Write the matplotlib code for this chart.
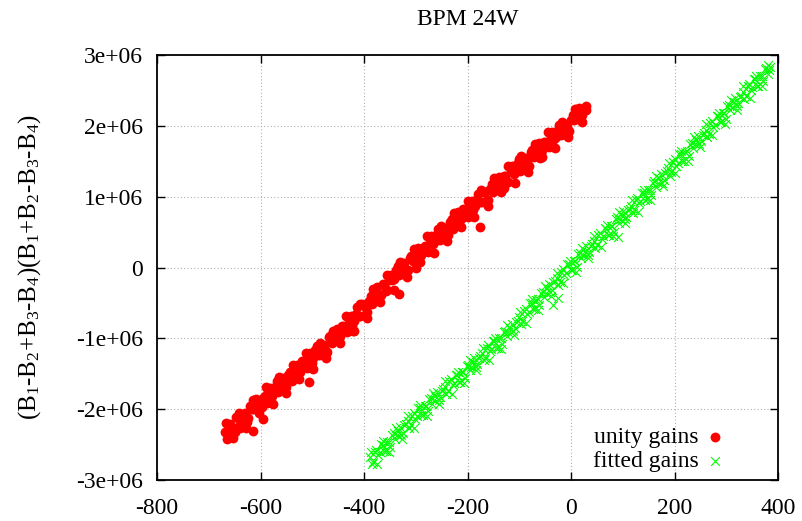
import numpy as np
import matplotlib
matplotlib.use("Agg")
import matplotlib.pyplot as plt

plt.rcParams['font.family'] = ['Liberation Serif', 'DejaVu Serif']
plt.rcParams['mathtext.fontset'] = 'custom'
plt.rcParams['mathtext.rm'] = 'Liberation Serif'
plt.rcParams['mathtext.it'] = 'Liberation Serif:italic'
plt.rcParams['axes.unicode_minus'] = False

# unity gains (x, y in units of 1e6)
x_unity = [-668, -662, -655, -650, -643, -636, -630, -624, -617, -611, -604, -598,
           -591, -585, -578, -572, -566, -559, -553, -546, -540, -533, -527, -520,
           -514, -507, -501, -494, -488, -481, -475, -468, -462, -455, -449, -442,
           -436, -429, -423, -416, -410, -403, -397, -390, -384, -377, -371, -364,
           -358, -351, -345, -338, -332, -325, -319, -312, -306, -299, -293, -286,
           -280, -273, -267, -260, -254, -247, -241, -234, -228, -221, -215, -208,
           -202, -195, -189, -182, -176, -169, -163, -156, -150, -143, -137, -130,
           -124, -117, -111, -104, -98, -91, -85, -78, -72, -65, -59, -52,
           -46, -39, -33, -26, -20, -13, -7, 0, 6, 13, 19, 25, 28,
           -665, -659, -652, -647, -640, -633, -627, -621, -614, -608, -601, -595,
           -588, -582, -575, -569, -563, -556, -550, -543, -537, -530, -524, -517,
           -511, -504, -498, -491, -485, -478, -472, -465, -459, -452, -446, -439,
           -433, -426, -420, -413, -407, -400, -394, -387, -381, -374, -368, -361,
           -355, -348, -342, -335, -329, -322, -316, -309, -303, -296, -290, -283,
           -277, -270, -264, -257, -251, -244, -238, -231, -225, -218, -212, -205,
           -199, -192, -186, -179, -173, -166, -160, -153, -147, -140, -134, -127,
           -121, -114, -108, -101, -95, -88, -82, -75, -69, -62, -56, -49,
           -43, -36, -30, -23, -17, -10, -4, 3, 9, 16, 22, 28,
           -666, -653, -641, -628, -615, -602, -589, -576, -564, -551, -538, -525,
           -512, -499, -486, -473, -460, -447, -434, -421, -408, -395, -382, -369,
           -356, -343, -330, -317, -304, -291, -278, -265, -252, -239, -226, -213,
           -200, -187, -174, -161, -148, -135, -122, -109, -96, -83, -70, -57,
           -44, -31, -18, -5, 8, 21,
           -614, -595, -506, -332, -176, -420, -300, -130, -60, -640]
y_unity = [-2.32, -2.37, -2.25, -2.32, -2.12, -2.16, -2.06, -2.12, -2.00, -1.90, -1.96, -1.97,
           -1.81, -1.74, -1.81, -1.68, -1.75, -1.56, -1.62, -1.51, -1.60, -1.46, -1.49, -1.32,
           -1.38, -1.27, -1.35, -1.17, -1.23, -1.13, -1.17, -0.98, -1.06, -0.94, -1.00, -0.83,
           -0.86, -0.72, -0.82, -0.65, -0.69, -0.52, -0.57, -0.47, -0.51, -0.34, -0.39, -0.23,
           -0.33, -0.17, -0.17, -0.03, -0.10, 0.04, -0.03, 0.13, 0.09, 0.23, 0.13, 0.27,
           0.24, 0.41, 0.34, 0.46, 0.39, 0.55, 0.50, 0.65, 0.55, 0.70, 0.69, 0.83,
           0.74, 0.88, 0.81, 0.97, 0.93, 1.07, 0.96, 1.11, 1.07, 1.24, 1.17, 1.29,
           1.21, 1.38, 1.32, 1.47, 1.36, 1.52, 1.50, 1.64, 1.56, 1.69, 1.62, 1.78,
           1.74, 1.87, 1.81, 1.94, 1.87, 2.01, 1.98, 2.09, 2.08, 2.18, 2.17, 2.24, 2.22,
           -2.42, -2.21, -2.28, -2.11, -2.22, -2.08, -2.18, -1.96, -2.00, -1.86, -1.95, -1.84,
           -1.91, -1.70, -1.77, -1.60, -1.72, -1.58, -1.68, -1.47, -1.51, -1.37, -1.47, -1.34,
           -1.42, -1.21, -1.28, -1.11, -1.23, -1.09, -1.19, -0.97, -1.02, -0.87, -0.96, -0.83,
           -0.91, -0.68, -0.75, -0.56, -0.68, -0.53, -0.62, -0.40, -0.43, -0.28, -0.38, -0.24,
           -0.32, -0.10, -0.16, 0.02, -0.09, 0.06, -0.04, 0.17, 0.13, 0.28, 0.18, 0.30,
           0.22, 0.44, 0.36, 0.54, 0.42, 0.56, 0.46, 0.68, 0.64, 0.78, 0.68, 0.81,
           0.72, 0.94, 0.87, 1.04, 0.92, 1.07, 0.96, 1.18, 1.13, 1.28, 1.17, 1.30,
           1.21, 1.43, 1.35, 1.53, 1.40, 1.55, 1.44, 1.66, 1.62, 1.76, 1.66, 1.78,
           1.70, 1.91, 1.84, 2.01, 1.89, 2.03, 1.93, 2.15, 2.11, 2.25, 2.16, 2.28,
           -2.20, -2.41, -2.05, -2.27, -1.87, -2.05, -1.69, -1.92, -1.55, -1.77, -1.38, -1.57,
           -1.20, -1.43, -1.06, -1.28, -0.89, -1.06, -0.69, -0.90, -0.51, -0.71, -0.30, -0.48,
           -0.10, -0.31, 0.08, -0.13, 0.26, 0.08, 0.44, 0.21, 0.59, 0.37, 0.77, 0.58,
           0.94, 0.72, 1.09, 0.87, 1.26, 1.07, 1.43, 1.20, 1.57, 1.35, 1.75, 1.56,
           1.92, 1.69, 2.06, 1.84, 2.24, 2.06,
           -2.31, -2.14, -1.62, -0.37, 0.58, -0.90, 0.00, 1.12, 1.55, -2.27]

# fitted gains (x, y in units of 1e6)
x_fitted = [-388, -382, -376, -370, -364, -358, -352, -346, -340, -334, -328, -322,
            -316, -310, -304, -298, -292, -286, -280, -274, -268, -262, -256, -250,
            -244, -238, -232, -226, -220, -214, -208, -202, -196, -190, -184, -178,
            -172, -166, -160, -154, -148, -142, -136, -130, -124, -118, -112, -106,
            -100, -94, -88, -82, -76, -70, -64, -58, -52, -46, -40, -34,
            -28, -22, -16, -10, -4, 2, 8, 14, 20, 26, 32, 38,
            44, 50, 56, 62, 68, 74, 80, 86, 92, 98, 104, 110,
            116, 122, 128, 134, 140, 146, 152, 158, 164, 170, 176, 182,
            188, 194, 200, 206, 212, 218, 224, 230, 236, 242, 248, 254,
            260, 266, 272, 278, 284, 290, 296, 302, 308, 314, 320, 326,
            332, 338, 344, 350, 356, 362, 368, 374, 380, 385,
            -385, -379, -373, -367, -361, -355, -349, -343, -337, -331, -325, -319,
            -313, -307, -301, -295, -289, -283, -277, -271, -265, -259, -253, -247,
            -241, -235, -229, -223, -217, -211, -205, -199, -193, -187, -181, -175,
            -169, -163, -157, -151, -145, -139, -133, -127, -121, -115, -109, -103,
            -97, -91, -85, -79, -73, -67, -61, -55, -49, -43, -37, -31,
            -25, -19, -13, -7, -1, 5, 11, 17, 23, 29, 35, 41,
            47, 53, 59, 65, 71, 77, 83, 89, 95, 101, 107, 113,
            119, 125, 131, 137, 143, 149, 155, 161, 167, 173, 179, 185,
            191, 197, 203, 209, 215, 221, 227, 233, 239, 245, 251, 257,
            263, 269, 275, 281, 287, 293, 299, 305, 311, 317, 323, 329,
            335, 341, 347, 353, 359, 365, 371, 377, 383,
            -387, -375, -363, -351, -339, -327, -315, -303, -291, -279, -267, -255,
            -243, -231, -219, -207, -195, -183, -171, -159, -147, -135, -123, -111,
            -99, -87, -75, -63, -51, -39, -27, -15, -3, 9, 21, 33,
            45, 57, 69, 81, 93, 105, 117, 129, 141, 153, 165, 177,
            189, 201, 213, 225, 237, 249, 261, 273, 285, 297, 309, 321,
            333, 345, 357, 369, 381,
            -25, -35, 91]
y_fitted = [-2.68, -2.74, -2.57, -2.61, -2.50, -2.59, -2.46, -2.36, -2.42, -2.31, -2.37, -2.23,
            -2.17, -2.23, -2.06, -2.10, -1.99, -2.08, -1.95, -1.86, -1.92, -1.81, -1.87, -1.74,
            -1.68, -1.74, -1.58, -1.63, -1.52, -1.61, -1.48, -1.39, -1.45, -1.34, -1.40, -1.27,
            -1.21, -1.27, -1.10, -1.15, -1.04, -1.13, -1.00, -0.91, -0.96, -0.85, -0.90, -0.77,
            -0.70, -0.75, -0.58, -0.62, -0.50, -0.59, -0.45, -0.36, -0.41, -0.29, -0.35, -0.21,
            -0.15, -0.20, -0.02, -0.07, 0.05, -0.04, 0.09, 0.19, 0.13, 0.24, 0.18, 0.31,
            0.37, 0.32, 0.49, 0.44, 0.55, 0.46, 0.59, 0.69, 0.63, 0.74, 0.68, 0.81,
            0.87, 0.81, 0.99, 0.94, 1.05, 0.97, 1.10, 1.20, 1.14, 1.26, 1.20, 1.34,
            1.40, 1.35, 1.53, 1.48, 1.60, 1.51, 1.65, 1.74, 1.69, 1.80, 1.75, 1.88,
            1.95, 1.89, 2.07, 2.02, 2.14, 2.05, 2.18, 2.28, 2.22, 2.34, 2.28, 2.41,
            2.48, 2.42, 2.59, 2.55, 2.66, 2.57, 2.71, 2.80, 2.74, 2.84,
            -2.78, -2.60, -2.65, -2.49, -2.59, -2.46, -2.54, -2.34, -2.37, -2.25, -2.33, -2.21,
            -2.27, -2.09, -2.14, -1.99, -2.08, -1.95, -2.03, -1.84, -1.87, -1.75, -1.83, -1.72,
            -1.78, -1.60, -1.66, -1.51, -1.61, -1.48, -1.56, -1.37, -1.40, -1.28, -1.36, -1.25,
            -1.31, -1.13, -1.18, -1.03, -1.13, -1.00, -1.08, -0.89, -0.91, -0.79, -0.86, -0.75,
            -0.80, -0.61, -0.66, -0.50, -0.59, -0.46, -0.53, -0.34, -0.36, -0.23, -0.31, -0.19,
            -0.25, -0.06, -0.10, 0.05, -0.04, 0.09, 0.01, 0.21, 0.18, 0.30, 0.22, 0.33,
            0.27, 0.46, 0.41, 0.56, 0.46, 0.59, 0.51, 0.71, 0.68, 0.80, 0.72, 0.83,
            0.77, 0.95, 0.91, 1.06, 0.96, 1.10, 1.02, 1.22, 1.19, 1.32, 1.24, 1.36,
            1.30, 1.49, 1.44, 1.60, 1.51, 1.64, 1.57, 1.76, 1.74, 1.86, 1.79, 1.90,
            1.85, 2.04, 1.99, 2.14, 2.05, 2.18, 2.10, 2.30, 2.27, 2.39, 2.32, 2.43,
            2.38, 2.56, 2.51, 2.67, 2.57, 2.70, 2.63, 2.82, 2.79,
            -2.60, -2.77, -2.45, -2.61, -2.27, -2.42, -2.09, -2.26, -1.94, -2.10, -1.77, -1.92,
            -1.60, -1.78, -1.47, -1.63, -1.30, -1.45, -1.13, -1.30, -0.99, -1.15, -0.81, -0.95,
            -0.62, -0.78, -0.45, -0.60, -0.26, -0.40, -0.07, -0.22, 0.10, -0.06, 0.28, 0.13,
            0.45, 0.29, 0.60, 0.44, 0.78, 0.63, 0.95, 0.79, 1.10, 0.95, 1.29, 1.15,
            1.48, 1.33, 1.65, 1.50, 1.84, 1.70, 2.03, 1.87, 2.19, 2.03, 2.37, 2.23,
            2.56, 2.39, 2.71, 2.56, 2.86,
            -0.43, -0.53, 0.43]

x_ticks = [-800, -600, -400, -200, 0, 200, 400]
y_ticks = [-3e6, -2e6, -1e6, 0, 1e6, 2e6, 3e6]
y_ticklabels = ['-3e+06', '-2e+06', '-1e+06', '0', '1e+06', '2e+06', '3e+06']

fig, ax = plt.subplots(figsize=(8.03, 5.21), dpi=100)
fig.subplots_adjust(left=0.1955, right=0.969, top=0.894, bottom=0.0787)

ax.scatter(x_unity, np.array(y_unity) * 1e6, s=50, color='#ff0000', marker='o',
           linewidths=0, label='unity gains', zorder=3)
ax.scatter(x_fitted, np.array(y_fitted) * 1e6, s=40, color='#00ff00', marker='x',
           linewidths=0.8, label='fitted gains', zorder=3)

ax.set_xlim(-800, 400)
ax.set_ylim(-3e6, 3e6)
ax.set_xticks(x_ticks)
ax.set_yticks(y_ticks)
ax.set_yticklabels(y_ticklabels)
ax.tick_params(direction='in', top=True, right=True, length=6, width=1,
               labelsize=17, pad=10)
ax.tick_params(axis='x', pad=13)
ax.grid(True, color='#b0b0b0', linestyle=(0, (1, 2)), linewidth=0.8)
for s in ax.spines.values():
    s.set_linewidth(1.3)

ax.set_title('BPM 24W', fontsize=17, pad=22)
ax.set_ylabel(r'(B$_1$-B$_2$+B$_3$-B$_4$)(B$_1$+B$_2$-B$_3$-B$_4$)', fontsize=18, labelpad=24)

ax.legend(loc='lower right', bbox_to_anchor=(0.933, -0.004), markerfirst=False,
          frameon=False, fontsize=17, handletextpad=0.2, labelspacing=0.1,
          borderaxespad=0, scatterpoints=1, handlelength=1.0)

fig.savefig('out.png', dpi=100)
